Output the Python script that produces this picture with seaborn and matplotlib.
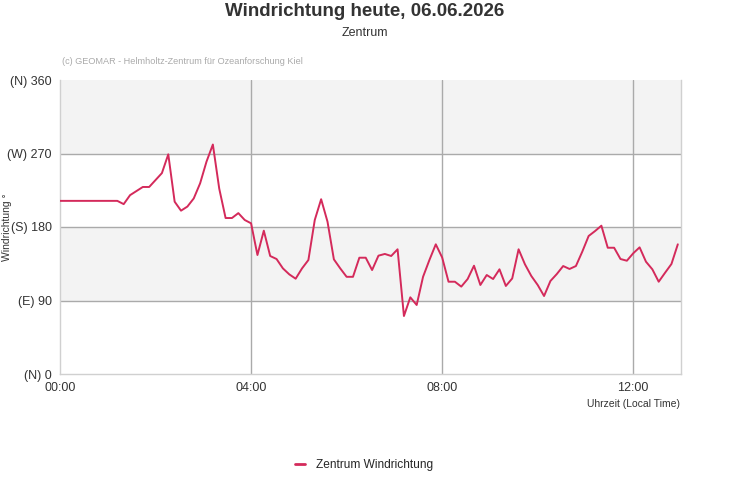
import numpy as np
import pandas as pd
import matplotlib
matplotlib.use("Agg")
import matplotlib.pyplot as plt
import seaborn as sns
from matplotlib.lines import Line2D

# ---- data ----
minutes = list(range(0, 98 * 8, 8))  # 8-minute sampling from 00:00
direction = [
    212, 212, 212, 212, 212, 212, 212, 212, 212, 212,
    208, 219, 224, 229, 229, 237.5, 246, 269, 211, 200,
    205, 215, 233.5, 260, 281, 227, 191, 191, 197, 188.6,
    184.5, 145.7, 175.5, 144.5, 140.8, 129.3, 122, 116.7, 129.3, 139.6,
    188.6, 214, 186.5, 140.4, 129.3, 119, 119, 142.4, 142.4, 127.3,
    144.9, 147, 144.5, 152.7, 71, 93.9, 84.5, 119, 139.6, 158.8,
    142.7, 113, 113, 107, 116.3, 132.6, 109, 121.2, 116.3, 128.2,
    107.8, 117, 152.7, 134.3, 120, 109, 95.5, 113.9, 122.4, 132.2,
    128.6, 132.2, 149.8, 169, 175, 181.6, 154.6, 154.6, 140.8, 138.7,
    147.8, 155.1, 137.5, 128.2, 113, 124, 134.7, 158.8,
]
y_ticks = [0, 90, 180, 270, 360]
y_ticklabels = ["(N) 0", "(E) 90", "(S) 180", "(W) 270", "(N) 360"]
x_ticks_h = [0, 4, 8, 12]
x_ticklabels = ["00:00", "04:00", "08:00", "12:00"]
series_name = "Zentrum Windrichtung"

df = pd.DataFrame({"hour": np.array(minutes) / 60.0, "deg": direction,
                   "series": series_name})

sns.set_theme(style="white")
plt.rcParams["font.family"] = ["Liberation Sans", "DejaVu Sans"]

fig = plt.figure(figsize=(7.31, 5.0), dpi=100)
ax = fig.add_axes([60 / 731, 1 - 374 / 500, 621 / 731, 294 / 500])

line_color = "#d42a5b"
# alternating bands
ax.axhspan(90, 180, color="#f3f3f3", zorder=0, lw=0)
ax.axhspan(270, 360, color="#f3f3f3", zorder=0, lw=0)

sns.lineplot(data=df, x="hour", y="deg", hue="series", palette=[line_color],
             ax=ax, linewidth=1.4, legend=False, zorder=3)

ax.set_xlim(0, 13)
ax.set_ylim(0, 360)
ax.set_yticks(y_ticks)
ax.set_yticklabels(y_ticklabels)
ax.set_xticks(x_ticks_h)
ax.set_xticklabels(x_ticklabels)
ax.tick_params(axis="both", length=0, labelsize=9, colors="#333333", pad=6)

for v in [90, 180, 270]:
    ax.axhline(v, color="#aaaaaa", lw=1, zorder=1)
for h in [4, 8, 12]:
    ax.axvline(h, color="#aaaaaa", lw=1, zorder=1)

ax.spines["top"].set_visible(False)
for side in ["left", "right", "bottom"]:
    ax.spines[side].set_color("#d0d0d0")
    ax.spines[side].set_linewidth(1)

ax.set_xlabel("")
ax.set_ylabel("")
fig.text(7 / 731, 1 - 227 / 500, "Windrichtung °", rotation=90,
         ha="center", va="center", fontsize=7.5, color="#333333")

fig.text(680 / 731, 1 - 404 / 500, "Uhrzeit (Local Time)", ha="right",
         va="center", fontsize=7.5, color="#333333")

fig.text(365 / 731, 1 - 12 / 500, "Windrichtung heute, 06.06.2026",
         ha="center", va="center", fontsize=13.5, fontweight="bold",
         color="#333333")
fig.text(365 / 731, 1 - 33 / 500, "Zentrum", ha="center", va="center",
         fontsize=9, color="#333333")
fig.text(62 / 731, 1 - 61 / 500,
         "(c) GEOMAR - Helmholtz-Zentrum für Ozeanforschung Kiel",
         ha="left", va="center", fontsize=6.6, color="#aaaaaa")

# legend
handle = Line2D([0], [0], color=line_color, lw=2)
fig.legend([handle], [series_name], loc="center",
           bbox_to_anchor=(364 / 731, 1 - 465 / 500),
           frameon=False, fontsize=8.6, handlelength=0.9, handletextpad=0.9)

fig.savefig("out.png", dpi=100, facecolor="white")
